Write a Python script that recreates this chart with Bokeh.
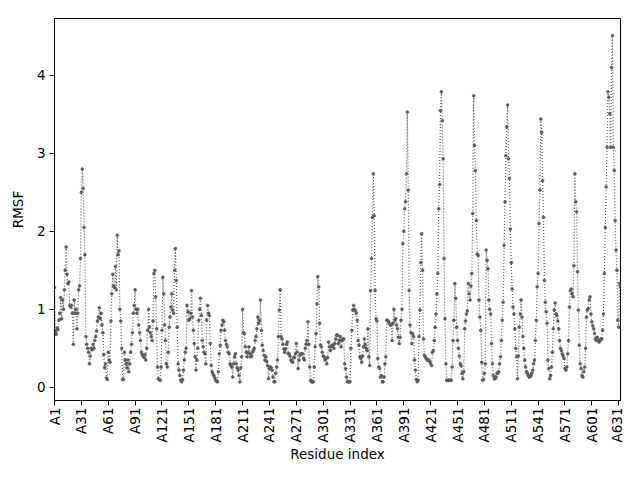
import math
from bokeh.plotting import figure
from bokeh.models import Range1d, FixedTicker, ColumnDataSource
from bokeh.embed import file_html
from bokeh.resources import INLINE

# RMSF values per residue
rmsf_1 = [1.28, 0.72, 0.68, 0.76, 0.74, 0.86, 0.95, 1.15, 0.88, 1.12, 1.0, 1.25, 1.5, 1.8, 1.45,
          1.33, 1.35, 1.05, 1.03, 1.05, 0.95, 0.55, 1.12, 0.95, 1.0, 0.75, 0.95, 1.25, 1.3, 1.65,
          2.5, 2.8, 2.55, 2.05, 1.7, 0.65, 0.55, 0.5, 0.45, 0.3, 0.4, 0.5, 0.48, 0.55, 0.5,
          0.6, 0.65, 0.72, 0.85, 0.9, 1.02, 0.88, 0.95, 0.8, 0.7, 0.42, 0.25, 0.3, 0.12, 0.1,
          0.45, 0.35, 0.32, 0.85, 1.2, 1.45, 1.3, 1.28, 1.55, 1.25, 1.95, 1.7, 1.75, 1.0, 0.85,
          0.5, 0.1, 0.1, 0.45, 0.35, 0.3, 0.25, 0.35, 0.2, 0.3, 0.45, 0.55, 0.7, 0.95, 1.05,
          1.25, 1.0, 0.95, 1.0, 0.8, 0.7]
rmsf_2 = [0.6, 0.45, 0.42, 0.4, 0.38, 0.42, 0.35, 0.5, 0.73, 1.0, 0.77, 0.7, 0.65, 0.6, 0.85,
          1.46, 1.5, 1.16, 0.75, 0.26, 0.11, 0.1, 0.09, 0.26, 0.73, 1.41, 1.2, 0.8, 0.6, 0.3,
          0.26, 0.45, 0.77, 0.9, 1.03, 1.2, 0.99, 0.95, 1.5, 1.78, 1.37, 0.77, 0.3, 0.22, 0.15,
          0.09, 0.07, 0.1, 0.22, 0.35, 0.45, 0.5, 1.05, 0.97, 0.86, 0.88, 0.95, 1.24, 0.9, 0.73,
          0.56, 0.39, 0.22, 0.35, 0.5, 0.86, 1.0, 1.14, 0.92, 0.6, 0.52, 0.45, 0.43, 0.3, 0.86,
          1.05, 0.95, 0.92, 0.56, 0.28, 0.2, 0.17, 0.15, 0.12, 0.09, 0.08, 0.07, 0.2, 0.43, 0.54,
          0.73, 0.8, 0.86, 0.84, 0.73, 0.6, 0.55, 0.52, 0.45, 0.43, 0.3, 0.28, 0.26, 0.13, 0.3,
          0.39, 0.43, 0.3, 0.25, 0.22, 0.15, 0.07, 0.25, 0.39, 1.0, 0.7, 0.69, 0.52, 0.45, 0.39,
          0.45, 0.52, 0.43]
rmsf_3 = [0.39, 0.4, 0.45, 0.47, 0.5, 0.6, 0.65, 0.75, 0.9, 0.82, 0.86, 1.12, 0.73, 0.54, 0.47,
          0.41, 0.35, 0.39, 0.33, 0.28, 0.11, 0.24, 0.26, 0.25, 0.22, 0.13, 0.07, 0.07, 0.18, 0.26,
          0.35, 0.65, 0.99, 1.25, 0.65, 0.62, 0.55, 0.49, 0.45, 0.49, 0.55, 0.58, 0.43, 0.43, 0.4,
          0.35, 0.33, 0.32, 0.38, 0.38, 0.43, 0.56, 0.45, 0.24, 0.35, 0.41, 0.43, 0.43, 0.43, 0.37,
          0.35, 0.5, 0.55, 0.6, 0.84, 0.55, 0.26, 0.09, 0.07, 0.07, 0.07, 0.26, 0.52, 0.69, 1.07,
          1.42, 1.29, 0.82, 0.54, 0.52, 0.45, 0.4, 0.39, 0.35, 0.37, 0.3, 0.38, 0.58, 0.52, 0.47,
          0.52, 0.54, 0.54, 0.5, 0.56, 0.62, 0.67, 0.67, 0.56, 0.6, 0.65, 0.52, 0.6, 0.62, 0.62,
          0.3, 0.24, 0.13, 0.07, 0.07, 0.07, 0.07, 0.5, 0.73, 0.99, 1.05, 1.0, 0.98, 0.95, 0.86,
          0.6, 0.54]
rmsf_4 = [0.39, 0.37, 0.32, 0.4, 0.52, 0.62, 0.55, 0.5, 0.47, 0.75, 0.39, 0.28, 1.24, 1.65, 2.18,
          2.74, 2.2, 1.24, 0.88, 0.85, 0.37, 0.26, 0.24, 0.13, 0.15, 0.07, 0.07, 0.13, 0.3, 0.39,
          0.86, 0.86, 0.84, 0.82, 0.8, 0.8, 0.6, 0.82, 1.0, 0.86, 0.88, 0.8, 0.75, 0.64, 0.56,
          0.64, 0.86, 1.0, 1.84, 2.0, 2.29, 2.38, 2.74, 3.53, 2.53, 1.24, 0.8, 0.7, 0.56, 0.69,
          0.65, 0.35, 0.22, 0.1, 0.07, 0.09, 0.65, 0.99, 1.6, 1.97, 1.5, 0.62, 0.41, 0.39, 0.37,
          0.35, 0.35, 0.35, 0.33, 0.3, 0.28, 0.45, 0.47, 0.6, 0.77, 0.94, 1.2, 1.46, 2.29, 2.6,
          3.55, 3.79, 3.42, 2.93, 1.65, 0.88, 0.3, 0.09, 0.09, 0.09, 0.09, 0.09, 0.09, 0.26, 0.6,
          0.86, 1.33, 1.14, 0.77, 0.6, 0.5, 0.4]
rmsf_5 = [0.3, 0.28, 0.18, 0.11, 0.2, 0.75, 0.85, 0.94, 0.98, 1.33, 1.2, 1.12, 1.3, 1.46, 2.23,
          3.74, 3.1, 2.78, 2.14, 1.71, 1.69, 1.12, 0.9, 0.73, 0.32, 0.09, 0.1, 0.18, 0.3, 1.76,
          1.63, 1.52, 1.12, 1.0, 0.94, 0.56, 0.3, 0.15, 0.11, 0.11, 0.13, 0.18, 0.18, 0.2, 0.3,
          0.39, 0.6, 0.86, 1.09, 1.82, 2.38, 2.97, 3.34, 3.62, 2.93, 2.68, 2.03, 1.6, 1.26, 1.03,
          0.94, 0.75, 0.5, 0.39, 0.11, 0.4, 0.77, 0.94, 1.12, 0.9, 0.65, 0.5, 0.35, 0.26, 0.2,
          0.18, 0.15, 0.13, 0.14, 0.15, 0.18, 0.22, 0.3, 0.35, 0.6, 0.86, 1.29, 1.46, 2.1, 2.53,
          3.44, 3.27, 2.65, 2.18, 1.37, 1.09, 0.97, 0.82, 0.35, 0.24, 0.11, 0.15, 0.26, 0.45, 0.75,
          0.99, 1.08, 0.94, 0.92, 0.85, 0.75, 0.6, 0.5]
rmsf_6 = [0.47, 0.43, 0.4, 0.37, 0.24, 0.22, 0.26, 0.43, 0.6, 1.03, 1.24, 1.26, 1.2, 1.16, 1.56,
          2.74, 2.38, 2.25, 1.48, 0.99, 0.54, 0.3, 0.24, 0.15, 0.13, 0.2, 0.26, 0.5, 0.9, 0.99,
          1.01, 1.12, 1.16, 0.94, 0.84, 0.79, 0.75, 0.69, 0.62, 0.6, 0.64, 0.6, 0.58, 0.6, 0.62,
          0.62, 0.73, 0.94, 1.46, 2.05, 2.57, 3.08, 3.79, 3.72, 3.51, 3.08, 4.1, 4.51, 3.08, 2.78,
          2.14, 1.76, 1.5, 0.86, 0.77, 1.33, 1.29]

rmsf = rmsf_1 + rmsf_2 + rmsf_3 + rmsf_4 + rmsf_5 + rmsf_6
n = len(rmsf)
index = list(range(n))
residues = ["A%d" % (i + 1) for i in index]
tick_positions = list(range(0, n, 30))
tick_labels = [residues[i] for i in tick_positions]

src = ColumnDataSource(dict(x=index, y=rmsf, res=residues))

p = figure(width=624, height=464, output_backend="svg", toolbar_location=None,
           x_range=Range1d(0, n - 1), y_range=Range1d(-0.17, 4.73),
           min_border_left=54, min_border_right=4, min_border_top=18, min_border_bottom=64)
p.background_fill_color = "white"
p.border_fill_color = "white"
p.outline_line_color = "black"
p.outline_line_width = 1
p.grid.visible = False

color = "#5a5a5a"
p.line("x", "y", source=src, line_color=color, line_width=1.2, line_dash="1 2")
p.scatter("x", "y", source=src, size=3, fill_color=color, line_color=color, line_width=0.5)

p.xaxis.ticker = FixedTicker(ticks=tick_positions)
p.xaxis.major_label_overrides = {pos: lab for pos, lab in zip(tick_positions, tick_labels)}
p.xaxis.major_label_orientation = math.pi / 2
p.yaxis.ticker = FixedTicker(ticks=[0, 1, 2, 3, 4])

for ax in (p.xaxis, p.yaxis):
    ax.major_label_text_font = "DejaVu Sans"
    ax.major_label_text_font_size = "13.5px"
    ax.major_label_text_color = "black"
    ax.axis_label_text_font = "DejaVu Sans"
    ax.axis_label_text_font_size = "13.5px"
    ax.axis_label_text_font_style = "normal"
    ax.axis_label_text_color = "black"
    ax.axis_line_color = "black"
    ax.major_tick_line_color = "black"
    ax.major_tick_out = 5
    ax.major_tick_in = 0
    ax.minor_tick_line_color = None

p.xaxis.major_label_standoff = 2
p.yaxis.major_label_standoff = 4
p.xaxis.axis_label = "Residue index"
p.yaxis.axis_label = "RMSF"
p.xaxis.axis_label_standoff = 0
p.yaxis.axis_label_standoff = 8

open("out.html", "w").write(file_html(p, INLINE))
